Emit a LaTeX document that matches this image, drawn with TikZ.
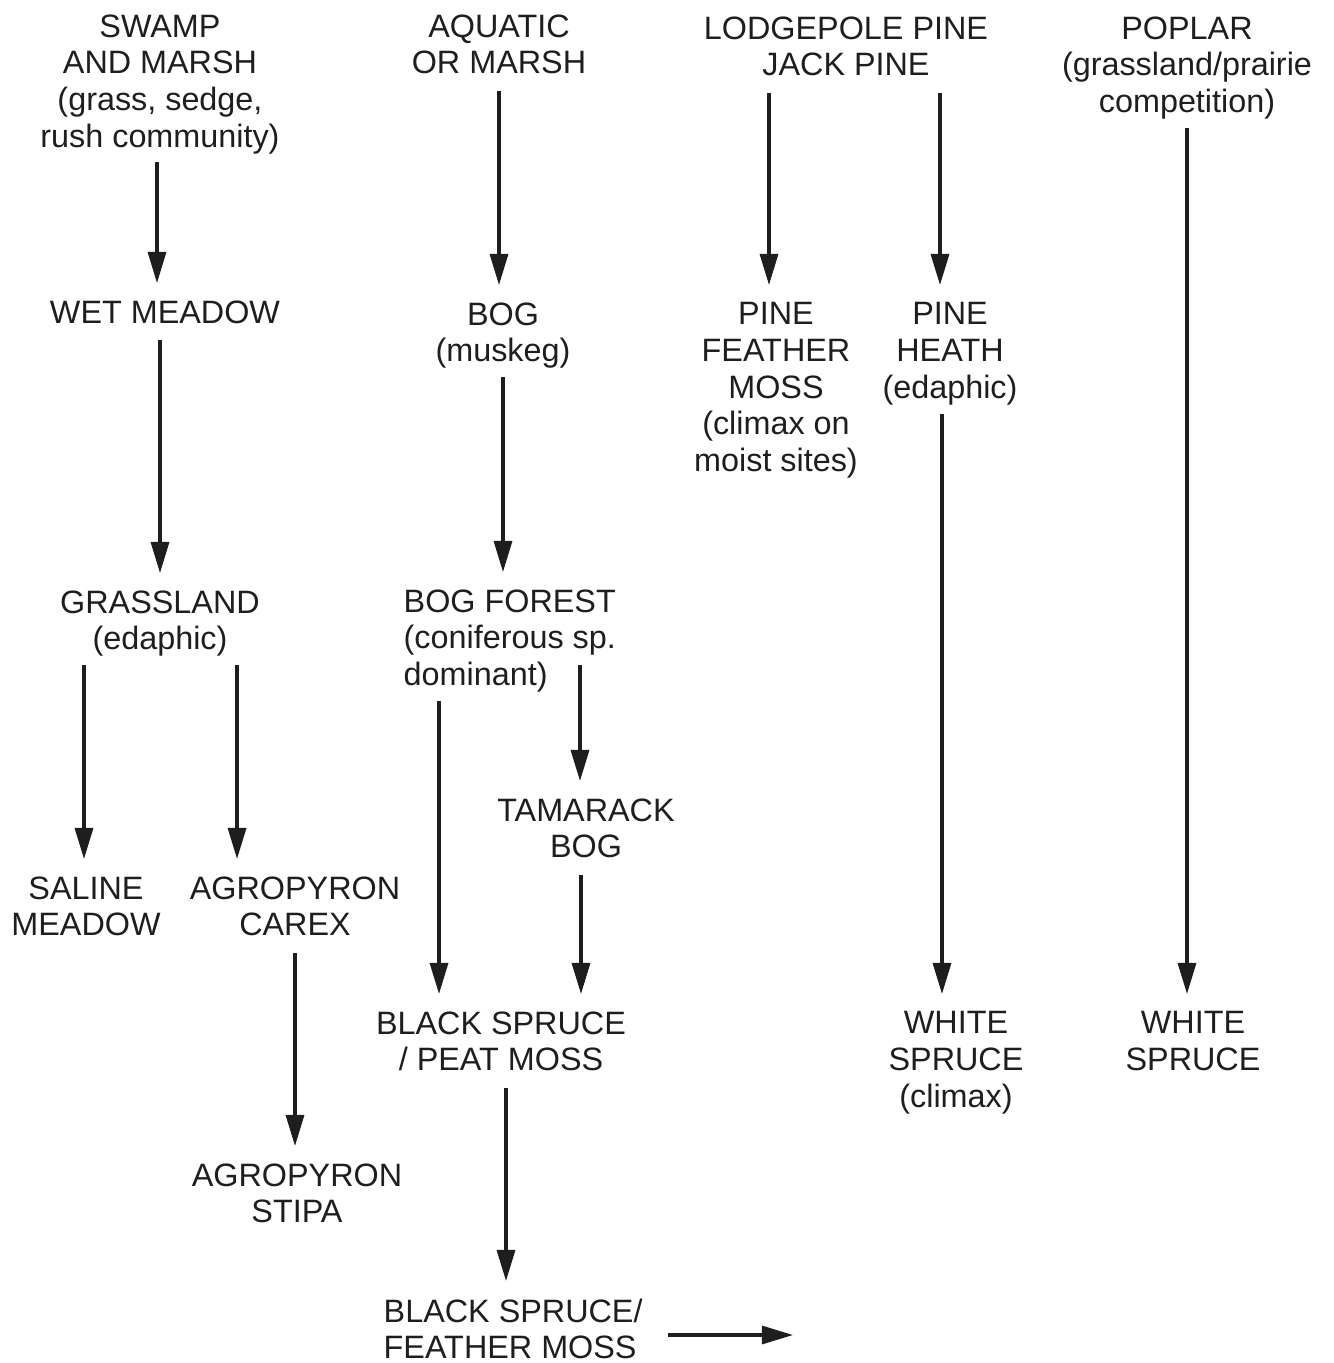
\documentclass[tikz,border=0pt]{standalone}
\usepackage{fontspec}
\setmainfont{Liberation Sans}
\usetikzlibrary{arrows.meta}
\definecolor{ink}{HTML}{1E1E1E}
\tikzset{
    stage/.style={
        inner sep=0pt,
        align=center,
        text=ink,
        font=\fontsize{9.2}{10.4}\selectfont
    },
    line/.style = {-{Triangle[length=0.31cm, width=0.18cm]}, draw=ink,
        line width=0.9pt, shorten <=0.16cm, shorten >=0.17cm},
    paren/.style = {shorten <=0.08cm}
}
\begin{document}
\begin{tikzpicture}[x=0.01cm, y=-0.01cm]
    \useasboundingbox (0,0) rectangle (1334,1363);

    % First column
    \node[stage, anchor=north] (swamp) at (160,14) {SWAMP\\AND MARSH\\(grass, sedge,\\rush community)};
    \node[stage, anchor=north] (wet) at (165,300) {WET MEADOW};
    \node[stage, anchor=north] (grass) at (160,590) {GRASSLAND\\(edaphic)};
    \node[stage, anchor=north] (saline) at (86,876) {SALINE\\MEADOW};
    \node[stage, anchor=north] (agcarex) at (295,876) {AGROPYRON\\CAREX};
    \node[stage, anchor=north] (agstipa) at (297,1163) {AGROPYRON\\STIPA};

    % Second column
    \node[stage, anchor=north] (aquatic) at (499,14) {AQUATIC\\OR MARSH};
    \node[stage, anchor=north] (bog) at (503,302) {BOG\\(muskeg)};
    \node[stage, anchor=north west, align=left] (bogforest) at (403,589) {BOG FOREST\\(coniferous sp.\\dominant)};
    \node[stage, anchor=north] (tamarack) at (586,798) {TAMARACK\\BOG};
    \node[stage, anchor=north] (bspeat) at (501,1011) {BLACK SPRUCE\\/ PEAT MOSS};
    \node[stage, anchor=north west, align=left] (bsfeather) at (383,1298) {BLACK SPRUCE/\\FEATHER MOSS};
    \coordinate (out) at (793,1335);

    % Third column
    \node[stage, anchor=north] (lodge) at (846,16) {LODGEPOLE PINE\\JACK PINE};
    \node[stage, anchor=north] (pfm) at (776,302) {PINE\\FEATHER\\MOSS\\(climax on\\moist sites)};
    \node[stage, anchor=north] (pheath) at (950,302) {PINE\\HEATH\\(edaphic)};
    \node[stage, anchor=north] (wsclimax) at (956,1011) {WHITE\\SPRUCE\\(climax)};

    % Fourth column
    \node[stage, anchor=north] (poplar) at (1187,16) {POPLAR\\(grassland/prairie\\competition)};
    \node[stage, anchor=north] (ws) at (1193,1011) {WHITE\\SPRUCE};

    % Lines
    \draw[line, paren] ([xshift=-0.03cm]swamp.south) -- ([xshift=-0.03cm]swamp.south |- wet.north);
    \draw[line] (grass.north |- wet.south) -- (grass.north);
    \draw[line, paren] ([xshift=-0.02cm]saline.north |- grass.south) -- ([xshift=-0.02cm]saline.north);
    \draw[line, paren] ([xshift=0.77cm]grass.south) -- ([xshift=0.77cm]grass.south |- agcarex.north);
    \draw[line] (agcarex.south) -- (agcarex.south |- agstipa.north);
    \draw[line] (aquatic.south) -- (aquatic.south |- bog.north);
    \draw[line, paren] (bog.south) -- (bog.south |- bogforest.north);
    \draw[line, paren] ([xshift=0.36cm]bogforest.south west) -- ([xshift=0.36cm]bogforest.south west |- bspeat.north);
    \draw[line, shorten <=0pt] ([xshift=-0.06cm, yshift=-0.24cm]tamarack.north |- bogforest.center) -- ([xshift=-0.06cm]tamarack.north);
    \draw[line] ([xshift=-0.05cm]tamarack.south) -- ([xshift=-0.05cm]tamarack.south |- bspeat.north);
    \draw[line] ([xshift=0.05cm]bspeat.south) -- ([xshift=0.05cm]bspeat.south |- bsfeather.north);
    \draw[line, shorten <=0.25cm, shorten >=0pt] (bsfeather.east |- out) -- (out);
    \draw[line] ([xshift=-0.07cm]pfm.north |- lodge.south) -- ([xshift=-0.07cm]pfm.north);
    \draw[line] ([xshift=-0.1cm]pheath.north |- lodge.south) -- ([xshift=-0.1cm]pheath.north);
    \draw[line, paren] ([xshift=-0.08cm]pheath.south) -- ([xshift=-0.08cm]pheath.south |- wsclimax.north);
    \draw[line, paren] (poplar.south) -- (poplar.south |- ws.north);

\end{tikzpicture}
\end{document}
